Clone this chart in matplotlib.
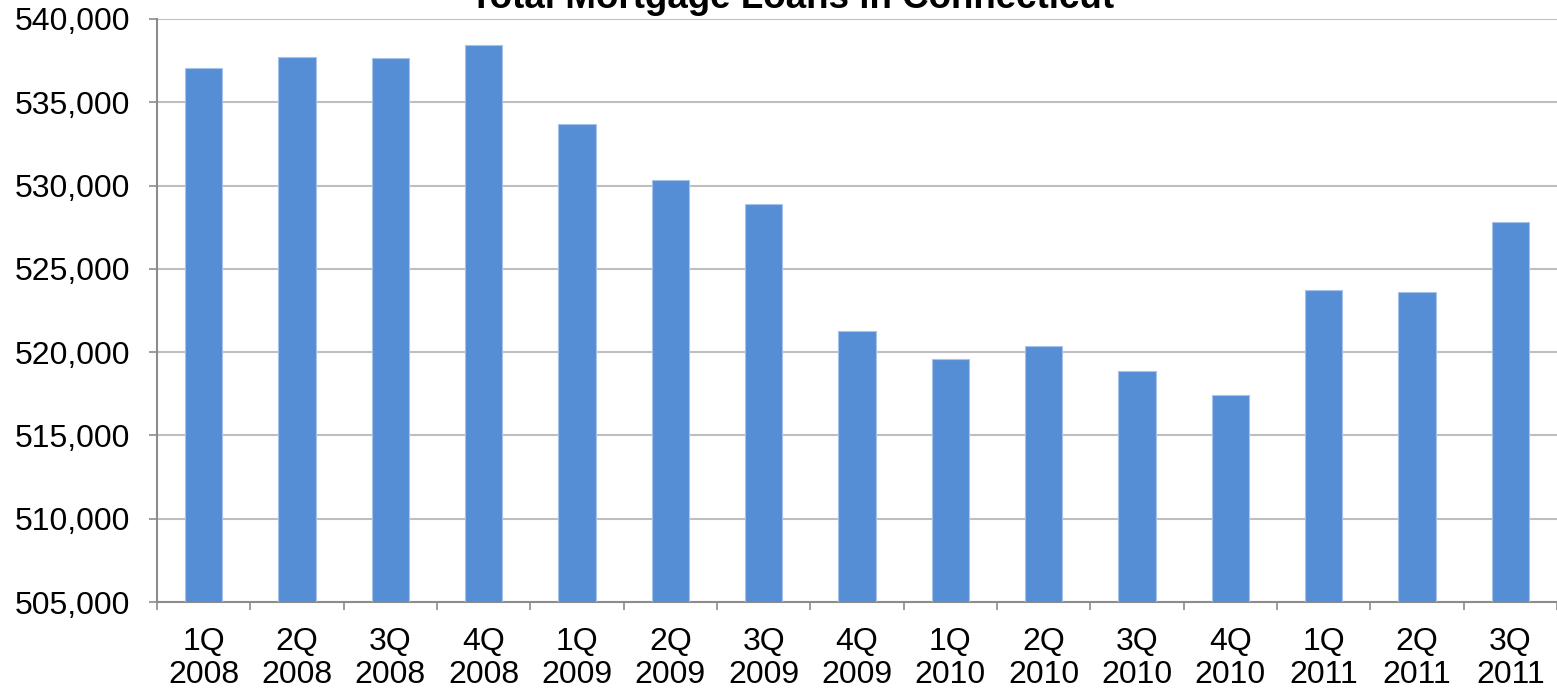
import matplotlib
matplotlib.use("Agg")
import matplotlib.pyplot as plt
from matplotlib.ticker import FuncFormatter, FixedLocator

categories = ["1Q\n2008", "2Q\n2008", "3Q\n2008", "4Q\n2008",
              "1Q\n2009", "2Q\n2009", "3Q\n2009", "4Q\n2009",
              "1Q\n2010", "2Q\n2010", "3Q\n2010", "4Q\n2010",
              "1Q\n2011", "2Q\n2011", "3Q\n2011"]
loans = [537060, 537720, 537680, 538450,
         533700, 530330, 528890, 521260,
         519590, 520380, 518870, 517430,
         523740, 523620, 527820]
title = "Total Mortgage Loans in Connecticut"
yticks = [505000, 510000, 515000, 520000, 525000, 530000, 535000, 540000]

plt.rcParams['font.family'] = ['Liberation Sans', 'DejaVu Sans']

W, H = 1557, 692
fig = plt.figure(figsize=(W / 100, H / 100), dpi=100)
ax = fig.add_axes([157 / W, 1 - 602 / H, 1 - 157 / W, (602 - 19) / H])

x = list(range(len(categories)))
ax.bar(x, loans, width=0.4, color='#558ed5', edgecolor='#a8c3ea',
       linewidth=0.8, zorder=3)

ax.set_xlim(-0.5, len(categories) - 0.5)
ax.set_ylim(505000, 540000)
ax.set_yticks(yticks)
ax.yaxis.set_major_formatter(FuncFormatter(lambda v, p: f"{int(v):,}"))
ax.set_xticks(x)
ax.set_xticklabels(categories, linespacing=1.15)
ax.xaxis.set_minor_locator(FixedLocator([i - 0.5 for i in range(len(categories) + 1)]))

ax.grid(axis='y', color='#bfbfbf', linewidth=1.5, zorder=0)
ax.set_axisbelow(True)

for s in ['top', 'right']:
    ax.spines[s].set_visible(False)
for s in ['left', 'bottom']:
    ax.spines[s].set_color('#8c8c8c')
    ax.spines[s].set_linewidth(1.5)

ax.tick_params(axis='y', which='major', direction='out', length=6, width=1.2,
               color='#8c8c8c', labelsize=23, pad=13)
ax.tick_params(axis='x', which='major', length=0, labelsize=23, pad=18)
ax.tick_params(axis='x', which='minor', direction='out', length=6, width=1.2,
               color='#8c8c8c')

fig.text(792 / W, 1 - 8 / H, title, ha='center', va='baseline',
         fontsize=26.5, fontweight='bold')

fig.savefig("out.png", dpi=100)
